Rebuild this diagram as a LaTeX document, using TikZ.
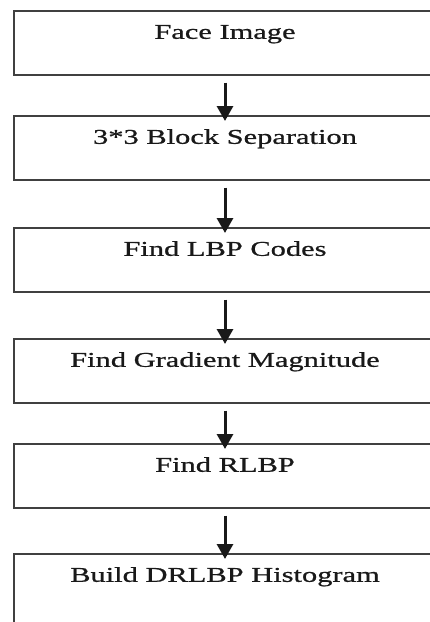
\documentclass[tikz,border=0pt]{standalone}
\usepackage{fontspec}
\usepackage{xcolor}
\usepackage{tikz}
\usetikzlibrary{arrows.meta}
\newfontfamily\stepfont[FakeStretch=1.45,FakeBold=0.8]{Liberation Serif}

\begin{document}
\begin{tikzpicture}[x=1pt, y=-1pt,
  stepbox/.style={draw=black!75, line width=1.6pt, rectangle, anchor=north,
    minimum width=422pt, inner xsep=0pt, inner ysep=0pt,
    text height=28pt, text depth=36pt, text=black!90,
    font=\stepfont\fontsize{21}{24}\selectfont},
  flow/.style={-{Triangle[width=16pt,length=15pt]}, line width=3pt,
    black!90, shorten <=7pt, shorten >=-6pt}]
                \clip (0,0) rectangle (430,622);
                \fill[white] (0,0) rectangle (430,622);
                \node[stepbox] (face) at (225,10) {Face Image};
                \node[stepbox] (block) at (225,115) {3*3 Block Separation};
                \node[stepbox] (lbp) at (225,227) {Find LBP Codes};
                \node[stepbox] (grad) at (225,338) {Find Gradient Magnitude};
                \node[stepbox] (rlbp) at (225,443) {Find RLBP};
                \node[stepbox, text depth=60pt] (hist) at (225,553) {Build DRLBP Histogram};
                \draw[flow] (face) -- (block);
                \draw[flow] (block) -- (lbp);
                \draw[flow] (lbp) -- (grad);
                \draw[flow] (grad) -- (rlbp);
                \draw[flow] (rlbp) -- (hist);
            \end{tikzpicture}
\end{document}
